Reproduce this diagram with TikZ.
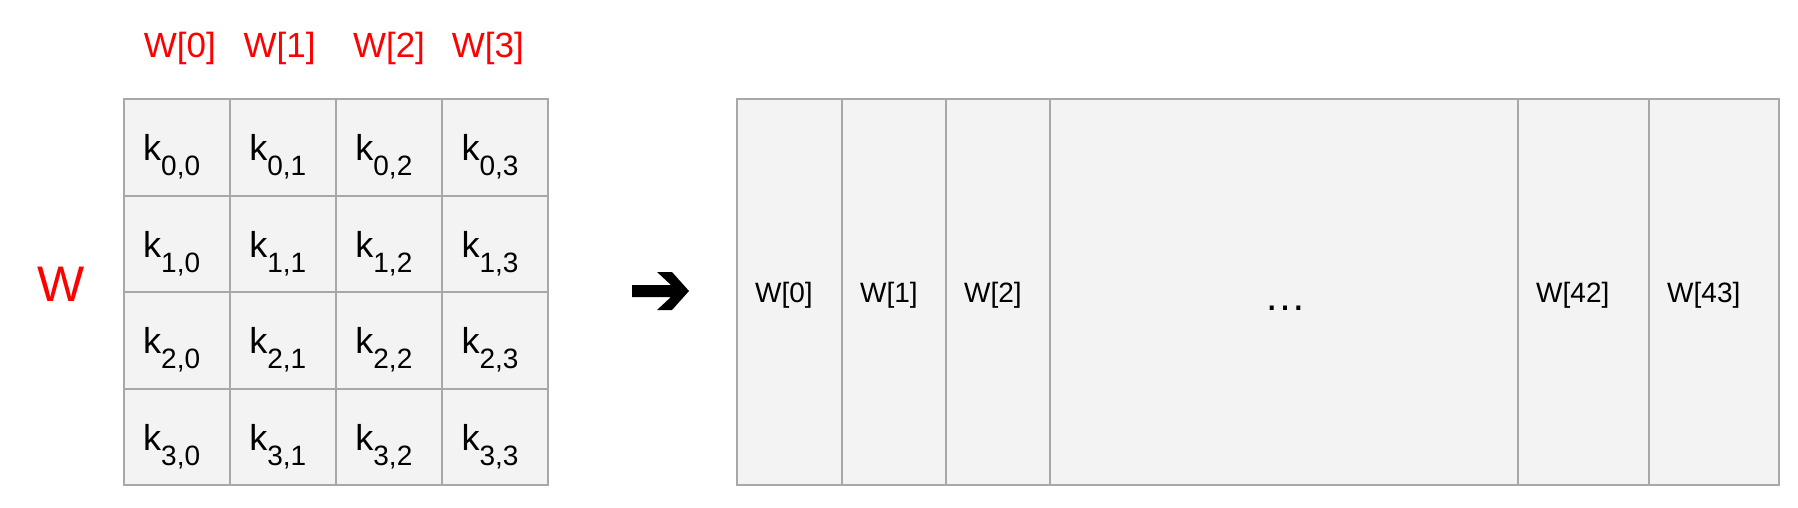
\documentclass[tikz,border=0pt]{standalone}
\usepackage{fontspec}
\setmainfont{Liberation Sans}
\definecolor{cellfill}{HTML}{F3F3F3}
\definecolor{cellline}{HTML}{A8A8A8}
\newcommand{\kentry}[2]{k\raisebox{-15pt}{\fontsize{28}{30}\selectfont #1,#2}}

\begin{document}
\begin{tikzpicture}[x=1pt,y=-1pt,
    kcell/.style={draw=cellline,fill=cellfill,line width=2pt,inner sep=0pt,
      minimum width=106.1pt,minimum height=96.5pt},
    wcell/.style={draw=cellline,fill=cellfill,line width=2pt,inner sep=0pt,
      minimum height=386pt},
    klabel/.style={anchor=base west,inner sep=0pt,font=\fontsize{36}{40}\selectfont},
    wlabel/.style={anchor=base west,inner sep=0pt,font=\fontsize{28}{32}\selectfont},
    redlabel/.style={anchor=base west,inner sep=0pt,text=red,font=\fontsize{35}{40}\selectfont}]
    \useasboundingbox (0,0) rectangle (1798,507);

    % the 4x4 matrix W
    \foreach \r in {0,...,3}
      \foreach \c in {0,...,3} {
        \node[kcell] (k\r\c) at ({177.05+106.1*\c},{147.25+96.5*\r}) {};
        \node[klabel,xshift=20pt,yshift=-62.7pt] at (k\r\c.north west) {\kentry{\r}{\c}};
      }

    \node[redlabel] (col0) at (143.6,57) {W[0]};
    \node[redlabel] (col1) at (243.4,57) {W[1]};
    \node[redlabel] (col2) at (352.8,57) {W[2]};
    \node[redlabel] (col3) at (451.6,57) {W[3]};
    \node[redlabel,font=\fontsize{50}{56}\selectfont] (wname) at (37.7,301.7) {W};

    % arrow
    \fill (632,285) -- (671,285) -- (657,272) -- (672,272) -- (689,291)
      -- (672,310) -- (657,310) -- (671,297) -- (632,297) -- cycle;

    % flattened W
    \node[wcell,minimum width=105pt] (w0) at (789.5,292) {};
    \node[wcell,minimum width=104pt] (w1) at (894,292) {};
    \node[wcell,minimum width=104pt] (w2) at (998,292) {};
    \node[wcell,minimum width=468pt] (wdots) at (1284,292) {};
    \node[wcell,minimum width=131pt] (w42) at (1583.5,292) {};
    \node[wcell,minimum width=130pt] (w43) at (1714,292) {};

    \node[wlabel,xshift=19pt,yshift=-10.7pt] at (w0.west) {W[0]};
    \node[wlabel,xshift=19pt,yshift=-10.7pt] at (w1.west) {W[1]};
    \node[wlabel,xshift=19pt,yshift=-10.7pt] at (w2.west) {W[2]};
    \node[anchor=base,inner sep=0pt,font=\fontsize{42}{46}\selectfont] at (1285,310) {…};
    \node[wlabel,xshift=19pt,yshift=-10.7pt] at (w42.west) {W[42]};
    \node[wlabel,xshift=19pt,yshift=-10.7pt] at (w43.west) {W[43]};
  \end{tikzpicture}
\end{document}
